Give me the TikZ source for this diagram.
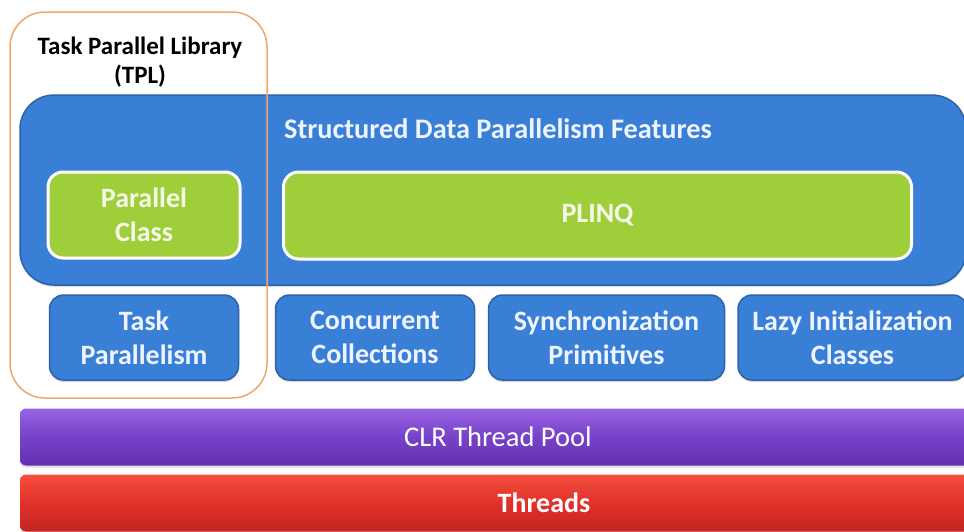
\documentclass[tikz,border=0pt]{standalone}
\usepackage{fontspec}
\setmainfont{Carlito}
\usetikzlibrary{shadows}

\definecolor{tplorange}{HTML}{F0A66A}
\definecolor{layerblue}{HTML}{3A7FD6}
\definecolor{layeredge}{HTML}{2A62AE}
\definecolor{featgreen}{HTML}{9ECF3B}
\definecolor{bluetext}{HTML}{EEF4FF}
\definecolor{greentext}{HTML}{F6F8E8}
\definecolor{pooltop}{HTML}{9A62E4}
\definecolor{poolmid}{HTML}{7642C8}
\definecolor{poolbot}{HTML}{6430B2}
\definecolor{threadtop}{HTML}{F2503F}
\definecolor{threadmid}{HTML}{E2302A}
\definecolor{threadbot}{HTML}{C42420}

\tikzset{
  bigbox/.style={draw=layeredge, line width=1.5pt, fill=layerblue,
    rounded corners=34pt, inner sep=0pt,
    drop shadow={shadow xshift=0pt, shadow yshift=-2pt, opacity=.25}},
  greenbox/.style={draw=white, line width=3pt, fill=featgreen,
    rounded corners=15pt, inner sep=0pt, text=greentext, align=center,
    font=\fontsize{28}{34}\selectfont\bfseries,
    drop shadow={shadow xshift=0pt, shadow yshift=-2pt, opacity=.3}},
  bluebox/.style={draw=layeredge, line width=1.5pt, fill=layerblue,
    rounded corners=14pt, inner sep=0pt, text=bluetext, align=center,
    font=\fontsize{28}{34}\selectfont\bfseries,
    drop shadow={shadow xshift=0pt, shadow yshift=-2pt, opacity=.3}},
  headtext/.style={text=bluetext, font=\fontsize{28.3}{34}\selectfont\bfseries},
  tplbox/.style={draw=tplorange, line width=1.5pt, rounded corners=35pt,
    inner sep=0pt},
  tpltitle/.style={text=black, align=center,
    font=\fontsize{25}{29}\selectfont\bfseries},
  layerbar/.style={rounded corners=6pt, inner sep=0pt, text=white,
    minimum height=57pt,
    drop shadow={shadow xshift=0pt, shadow yshift=-2pt, opacity=.25}},
}

\begin{document}
\begin{tikzpicture}[x=1pt, y=-1pt]
  \useasboundingbox (0,0) rectangle (964,531);
  \clip (0,0) rectangle (964,531);

  % structured data parallelism layer
  \node[bigbox, minimum width=946pt, minimum height=190pt] (sdp) at (493,190) {};
  \node[headtext] (sdptitle) at (498,129) {Structured Data Parallelism Features};
  \node[greenbox, minimum width=192pt, minimum height=86pt] (parclass) at (144,215) {Parallel\\Class};
  \node[greenbox, minimum width=628pt, minimum height=87pt] (plinq) at (597.5,215.5) {PLINQ};

  % building blocks row
  \node[bluebox, minimum width=189pt, minimum height=85pt] (taskpar) at (144,337.5) {Task\\Parallelism};
  \node[bluebox, minimum width=199pt, minimum height=85pt] (conccoll) at (375,337.5) {Concurrent\\Collections};
  \node[bluebox, minimum width=236pt, minimum height=85pt] (syncprim) at (606.5,337.5) {Synchronization\\Primitives};
  \node[bluebox, minimum width=229pt, minimum height=85pt] (lazyinit) at (852.5,337.5) {Lazy Initialization\\Classes};

  % runtime layers
  \node[layerbar, minimum width=956pt, top color=pooltop, bottom color=poolbot,
        middle color=poolmid, font=\fontsize{28.5}{34}\selectfont] (pool) at (498,437) {CLR Thread Pool};
  \node[layerbar, minimum width=1048pt, top color=threadtop, bottom color=threadbot,
        middle color=threadmid, font=\fontsize{28}{34}\selectfont\bfseries] (threads) at (544,503) {Threads};

  % task parallel library grouping
  \node[tplbox, minimum width=257pt, minimum height=386pt] (tpl) at (138.5,205) {};
  \node[tpltitle] (tpltitle) at (140,62) {Task Parallel Library\\(TPL)};
\end{tikzpicture}
\end{document}
